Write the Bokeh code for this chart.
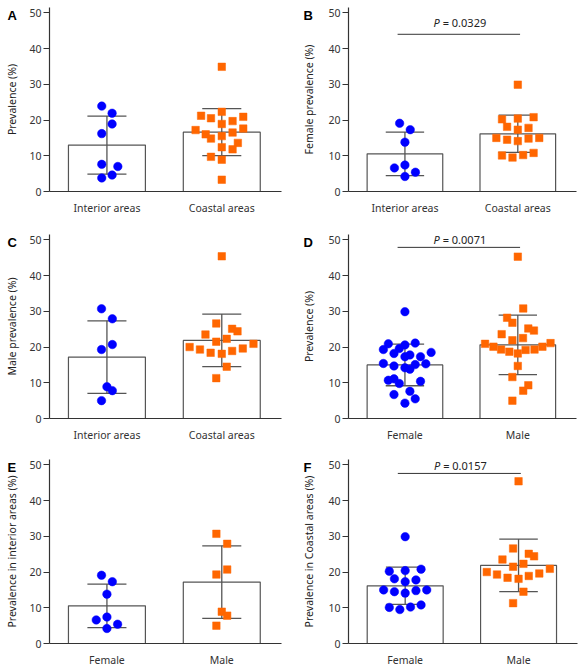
import numpy as np
from bokeh.plotting import figure
from bokeh.layouts import column, row
from bokeh.models import FixedTicker, Label, Range1d
from bokeh.embed import file_html
from bokeh.resources import INLINE

# ---------------- data ----------------
area_labels = ["Interior areas", "Coastal areas"]
sex_labels = ["Female", "Male"]
y_ticks = [0, 10, 20, 30, 40, 50]

# Panel A: overall prevalence by area (values in %, dx = horizontal scatter offset)
all_interior = [23.9, 21.9, 18.9, 16.2, 7.6, 7.0, 4.6, 3.8]
all_interior_dx = [-0.045, 0.045, 0.045, -0.045, -0.045, 0.095, 0.045, -0.045]
all_coastal = [34.9, 22.3, 21.2, 20.5, 19.7, 20.9, 18.9, 17.2, 17.6, 16.0,
               16.5, 15.5, 14.8, 13.6, 12.4, 11.8, 9.7, 8.9, 3.3]
all_coastal_dx = [0, 0, -0.18, -0.094, 0.094, 0.187, 0, -0.228, 0.187, -0.14,
                  0.094, 0, -0.094, 0.14, 0, 0.094, -0.094, 0, 0]

# Female / male by area (panels B, C, E, F)
female_interior = [19.1, 17.3, 13.8, 7.4, 6.6, 5.4, 4.2]
female_interior_dx = [-0.047, 0.047, 0, 0, -0.093, 0.093, 0]
female_coastal = [29.9, 20.2, 20.4, 20.8, 18.1, 17.3, 17.8, 15.0, 14.5, 14.1,
                  14.8, 15.0, 10.1, 9.5, 10.2, 10.8]
female_coastal_dx = [0, -0.14, 0, 0.14, -0.095, 0, 0.095, -0.19, -0.095, 0,
                     0.095, 0.19, -0.14, -0.047, 0.047, 0.14]
male_interior = [30.7, 27.9, 20.7, 19.3, 8.9, 7.8, 5.0]
male_interior_dx = [-0.047, 0.047, 0.047, -0.047, 0, 0.047, -0.047]
male_coastal = [45.4, 26.6, 25.1, 24.4, 23.5, 22.3, 21.5, 20.0, 19.3, 18.4,
                18.1, 18.9, 19.6, 20.9, 14.5, 11.3]
male_coastal_dx = [0, -0.048, 0.09, 0.137, -0.142, 0.043, -0.048, -0.28, -0.19, -0.097,
                   0, 0.09, 0.183, 0.276, 0.043, -0.048]

# Panel D: female vs male, all areas
female_all = [29.9, 20.9, 19.3, 20.6, 21.1, 19.6, 18.2, 18.5, 17.3, 17.8,
              17.3, 15.4, 14.7, 14.2, 13.8, 15.1, 15.3, 10.7, 11.1, 9.8,
              10.4, 6.7, 7.6, 5.5, 4.3]
female_all_dx = [0, -0.147, -0.191, 0, 0.091, -0.05, -0.097, 0.232, 0, 0.044,
                 0.138, -0.191, -0.097, 0, 0.044, 0.091, 0.185, -0.147, -0.097, -0.05,
                 0.138, -0.097, 0.044, 0.091, 0]
male_all = [45.3, 30.8, 28.2, 26.8, 25.2, 24.6, 23.6, 22.5, 21.9, 20.9,
            21.1, 20.1, 19.3, 18.7, 18.2, 19.2, 19.3, 20.1, 14.7, 11.6,
            9.3, 7.8, 5.0]
male_all_dx = [0, 0.048, -0.095, -0.048, 0.093, 0.143, -0.143, 0.046, -0.048, -0.29,
               0.29, -0.216, -0.148, -0.075, 0, 0.069, 0.148, 0.218, 0, -0.048,
               0.093, 0.048, -0.048]

p_values = {"B": "0.0329", "D": "0.0071", "F": "0.0157"}

# ---------------- styling ----------------
FONT = "Noto Sans"
BLUE = "#0000ff"
ORANGE = "#ff6600"
AXIS = "#333333"
BAR_LINE = "#555555"
ERR = "#555555"
FRAME_H = 184


def panel(letter, xlabels, ylabel, groups, left_col, height, top, sig=None):
    if left_col:
        w, bl, br, stand, lx = 290, 49, 8, 7, -42
    else:
        w, bl, br, stand, lx = 295, 58, 8, 9, -45
    bottom = height - top - FRAME_H
    p = figure(width=w, height=height, x_range=Range1d(-0.5, 1.52), y_range=Range1d(0, 51.5),
               output_backend="svg", toolbar_location=None,
               min_border_left=bl, min_border_right=br, min_border_top=top,
               min_border_bottom=bottom,
               outline_line_color=None, background_fill_color="white",
               border_fill_color="white")
    p.grid.visible = False
    xs = [0, 1]
    means = [float(np.mean(g[0])) for g in groups]
    sds = [float(np.std(g[0], ddof=1)) for g in groups]
    lo = [m - s for m, s in zip(means, sds)]
    hi = [m + s for m, s in zip(means, sds)]

    p.vbar(x=xs, top=means, bottom=0, width=0.67, fill_color="white",
           line_color=BAR_LINE, line_width=1.2)
    cap = 0.17
    p.segment(x0=xs, y0=lo, x1=xs, y1=hi, line_color=ERR, line_width=1.3)
    p.segment(x0=[x - cap for x in xs], y0=hi, x1=[x + cap for x in xs], y1=hi,
              line_color=ERR, line_width=1.3)
    p.segment(x0=[x - cap for x in xs], y0=lo, x1=[x + cap for x in xs], y1=lo,
              line_color=ERR, line_width=1.3)

    for x, (vals, dx, marker, color, size) in zip(xs, groups):
        p.scatter(x=[x + d for d in dx], y=vals, marker=marker, size=size,
                  fill_color=color, line_color=color, line_width=0.5)

    xa = p.xaxis[0]
    ya = p.yaxis[0]
    xa.ticker = FixedTicker(ticks=xs)
    xa.major_label_overrides = {0: xlabels[0], 1: xlabels[1]}
    xa.major_tick_line_color = None
    xa.major_tick_out = 0
    xa.major_tick_in = 0
    xa.minor_tick_line_color = None
    xa.major_label_standoff = 9
    xa.axis_line_color = AXIS
    xa.axis_line_width = 1.2
    xa.major_label_text_font = FONT
    xa.major_label_text_font_size = "10.5px"
    xa.major_label_text_color = "#333333"

    ya.ticker = FixedTicker(ticks=y_ticks)
    ya.major_tick_out = 6
    ya.major_tick_in = 0
    ya.major_tick_line_color = AXIS
    ya.minor_tick_line_color = None
    ya.major_label_standoff = 2
    ya.axis_line_color = AXIS
    ya.axis_line_width = 1.2
    ya.major_label_text_font = FONT
    ya.major_label_text_font_size = "10.5px"
    ya.major_label_text_color = "#333333"
    ya.axis_label = ylabel
    ya.axis_label_standoff = stand
    ya.axis_label_text_font = FONT
    ya.axis_label_text_font_size = "10.5px"
    ya.axis_label_text_font_style = "normal"
    ya.axis_label_text_color = "#222222"

    # panel letter: lives in the right side panel so it is not clipped to the frame
    p.add_layout(Label(x=-0.5, y=49.4, x_offset=lx, text=letter,
                       text_font="Liberation Sans", text_font_style="bold",
                       text_font_size="13px", text_align="left",
                       text_baseline="middle", text_color="black"), "right")

    if sig is not None:
        pv, ly, ty = sig
        p.segment(x0=[xs[0] - 0.065], y0=[ly], x1=[xs[1] + 0.02], y1=[ly],
                  line_color=AXIS, line_width=1)
        xc = 0.485
        p.add_layout(Label(x=xc, y=ty, x_offset=-20, text="P", text_font=FONT,
                           text_font_style="italic", text_font_size="11px",
                           text_align="right", text_baseline="middle", text_color="#222222"))
        p.add_layout(Label(x=xc, y=ty, x_offset=-17, text="= " + pv, text_font=FONT,
                           text_font_size="11px", text_align="left",
                           text_baseline="middle", text_color="#222222"))
    return p


C_SIZE = 8.5
S_SIZE = 7.5

pA = panel("A", area_labels, "Prevalence (%)",
           [(all_interior, all_interior_dx, "circle", BLUE, C_SIZE),
            (all_coastal, all_coastal_dx, "square", ORANGE, S_SIZE)], True, 224, 7)
pB = panel("B", area_labels, "Female prevalence (%)",
           [(female_interior, female_interior_dx, "circle", BLUE, C_SIZE),
            (female_coastal, female_coastal_dx, "square", ORANGE, S_SIZE)], False, 224, 7,
           sig=(p_values["B"], 44.0, 47.2))
pC = panel("C", area_labels, "Male prevalence (%)",
           [(male_interior, male_interior_dx, "circle", BLUE, C_SIZE),
            (male_coastal, male_coastal_dx, "square", ORANGE, S_SIZE)], True, 225, 10)
pD = panel("D", sex_labels, "Prevalence (%)",
           [(female_all, female_all_dx, "circle", BLUE, C_SIZE),
            (male_all, male_all_dx, "square", ORANGE, S_SIZE)], False, 225, 10,
           sig=(p_values["D"], 47.9, 50.2))
pE = panel("E", sex_labels, "Prevalence in interior areas (%)",
           [(female_interior, female_interior_dx, "circle", BLUE, C_SIZE),
            (male_interior, male_interior_dx, "square", ORANGE, S_SIZE)], True, 220, 10)
pF = panel("F", sex_labels, "Prevalence in Coastal areas (%)",
           [(female_coastal, female_coastal_dx, "circle", BLUE, C_SIZE),
            (male_coastal, male_coastal_dx, "square", ORANGE, S_SIZE)], False, 220, 10,
           sig=(p_values["F"], 47.6, 49.9))

layout = column(row(pA, pB), row(pC, pD), row(pE, pF))

with open("out.html", "w") as f:
    f.write(file_html(layout, INLINE, title="Prevalence"))
